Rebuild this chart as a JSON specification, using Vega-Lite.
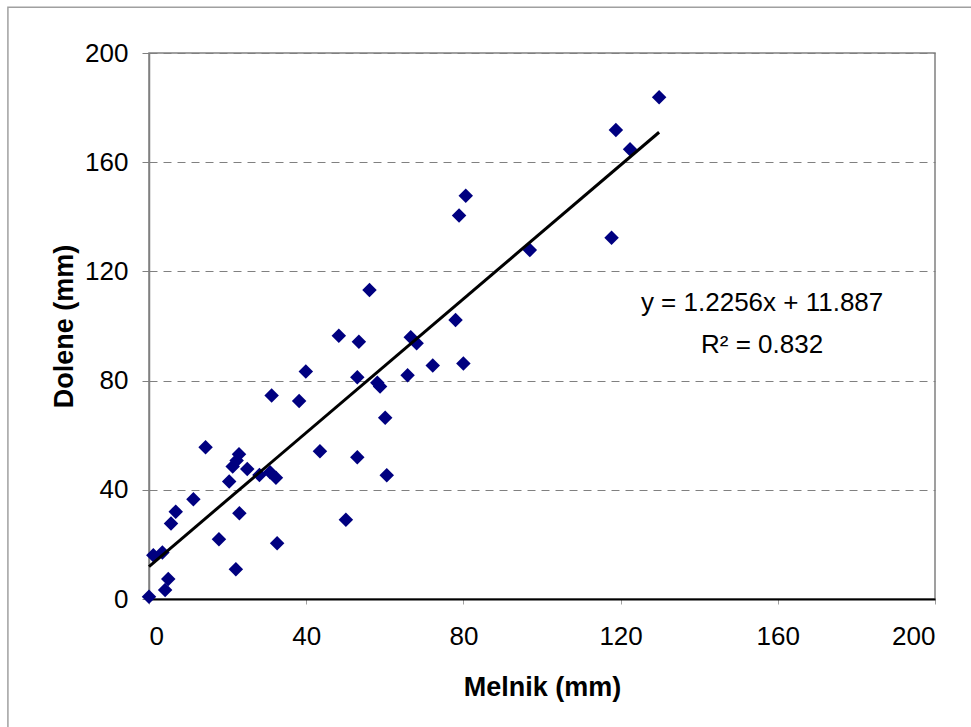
{
  "$schema": "https://vega.github.io/schema/vega-lite/v6.json",
  "width": 786,
  "height": 546,
  "autosize": {"type": "none"},
  "padding": {"left": 149, "top": 53, "right": 36, "bottom": 128},
  "background": "white",
  "config": {
    "view": {"stroke": "#808080", "strokeWidth": 1.5},
    "font": "Liberation Sans"
  },
  "datasets": {
    "points": [
      {"melnik": 0, "dolene": 0.8},
      {"melnik": 1.1, "dolene": 16},
      {"melnik": 3.4, "dolene": 17},
      {"melnik": 4.9, "dolene": 7.3},
      {"melnik": 4.1, "dolene": 3.3},
      {"melnik": 5.6, "dolene": 27.7},
      {"melnik": 6.8, "dolene": 32},
      {"melnik": 11.3, "dolene": 36.5},
      {"melnik": 14.4, "dolene": 55.6},
      {"melnik": 17.8, "dolene": 21.9},
      {"melnik": 20.4, "dolene": 43},
      {"melnik": 22.1, "dolene": 10.9},
      {"melnik": 21.3, "dolene": 48.5},
      {"melnik": 22.9, "dolene": 53},
      {"melnik": 22.3, "dolene": 50.7},
      {"melnik": 23, "dolene": 31.4},
      {"melnik": 25, "dolene": 47.6},
      {"melnik": 28.1, "dolene": 45.4},
      {"melnik": 31.2, "dolene": 74.5},
      {"melnik": 30.8, "dolene": 46.4},
      {"melnik": 32.3, "dolene": 44.4},
      {"melnik": 32.6, "dolene": 20.4},
      {"melnik": 38.2, "dolene": 72.5},
      {"melnik": 39.9, "dolene": 83.3},
      {"melnik": 43.5, "dolene": 54.1},
      {"melnik": 48.3, "dolene": 96.4},
      {"melnik": 50.1, "dolene": 29},
      {"melnik": 53, "dolene": 81.2},
      {"melnik": 53.4, "dolene": 94.2},
      {"melnik": 53, "dolene": 51.9},
      {"melnik": 56.1, "dolene": 113.2},
      {"melnik": 58.1, "dolene": 79.2},
      {"melnik": 58.8, "dolene": 77.8},
      {"melnik": 60.1, "dolene": 66.4},
      {"melnik": 60.5, "dolene": 45.3},
      {"melnik": 65.8, "dolene": 82},
      {"melnik": 66.6, "dolene": 95.9},
      {"melnik": 68.1, "dolene": 93.7},
      {"melnik": 72.2, "dolene": 85.5},
      {"melnik": 78, "dolene": 102.2},
      {"melnik": 78.9, "dolene": 140.5},
      {"melnik": 80, "dolene": 86.3},
      {"melnik": 80.6, "dolene": 147.7},
      {"melnik": 96.9, "dolene": 127.8},
      {"melnik": 117.7, "dolene": 132.3},
      {"melnik": 118.8, "dolene": 171.8},
      {"melnik": 122.4, "dolene": 164.7},
      {"melnik": 129.8, "dolene": 183.8}
    ],
    "trend": [
      {"melnik": 0, "dolene": 11.887},
      {"melnik": 129.8, "dolene": 170.97}
    ],
    "labels": [
      {"melnik": 156, "dolene": 108.4, "text": "y = 1.2256x + 11.887"},
      {"melnik": 156, "dolene": 93, "text": "R² = 0.832"}
    ],
    "frame": [
      {"melnik": -35.9, "x2": 300, "dolene": 216.8, "y2": -100}
    ]
  },
  "layer": [
    {
      "data": {"name": "points"},
      "mark": {"type": "point", "shape": "diamond", "filled": true, "color": "#000080", "size": 210, "opacity": 1, "clip": false},
      "encoding": {
        "x": {
          "field": "melnik", "type": "quantitative",
          "scale": {"domain": [0, 200], "nice": false, "zero": true},
          "title": "Melnik (mm)",
          "axis": {
            "values": [0, 40, 80, 120, 160, 200],
            "grid": false,
            "domainColor": "#000000", "domainWidth": 2,
            "tickColor": "#a0a0a0", "tickSize": 5,
            "labelFont": "Liberation Sans", "labelFontSize": 26, "labelColor": "#000000",
            "labelPadding": 19,
            "titleFont": "Liberation Sans", "titleFontSize": 27, "titleFontWeight": "bold", "titleColor": "#000000",
            "titlePadding": 25
          }
        },
        "y": {
          "field": "dolene", "type": "quantitative",
          "scale": {"domain": [0, 200], "nice": false, "zero": true},
          "title": "Dolene (mm)",
          "axis": {
            "values": [0, 40, 80, 120, 160, 200],
            "grid": true, "gridColor": "#808080", "gridDash": [8, 6], "gridWidth": 1,
            "domainColor": "#808080", "domainWidth": 1.5,
            "tickColor": "#808080", "tickSize": 7,
            "labelFont": "Liberation Sans", "labelFontSize": 26, "labelColor": "#000000",
            "labelPadding": 14,
            "titleFont": "Liberation Sans", "titleFontSize": 27, "titleFontWeight": "bold", "titleColor": "#000000",
            "titlePadding": 6
          }
        }
      }
    },
    {
      "data": {"name": "trend"},
      "mark": {"type": "line", "color": "#000000", "strokeWidth": 3},
      "encoding": {
        "x": {"field": "melnik", "type": "quantitative", "title": "Melnik (mm)"},
        "y": {"field": "dolene", "type": "quantitative", "title": "Dolene (mm)"}
      }
    },
    {
      "data": {"name": "labels"},
      "mark": {"type": "text", "font": "Liberation Sans", "fontSize": 26, "letterSpacing": 1.2, "color": "#000000", "align": "center", "baseline": "middle"},
      "encoding": {
        "x": {"field": "melnik", "type": "quantitative", "title": "Melnik (mm)"},
        "y": {"field": "dolene", "type": "quantitative", "title": "Dolene (mm)"},
        "text": {"field": "text"}
      }
    },
    {
      "data": {"name": "frame"},
      "mark": {"type": "rect", "clip": false, "fill": null, "stroke": "#a0a0a0", "strokeWidth": 1.5},
      "encoding": {
        "x": {"field": "melnik", "type": "quantitative", "title": "Melnik (mm)"},
        "x2": {"field": "x2"},
        "y": {"field": "dolene", "type": "quantitative", "title": "Dolene (mm)"},
        "y2": {"field": "y2"}
      }
    }
  ]
}
